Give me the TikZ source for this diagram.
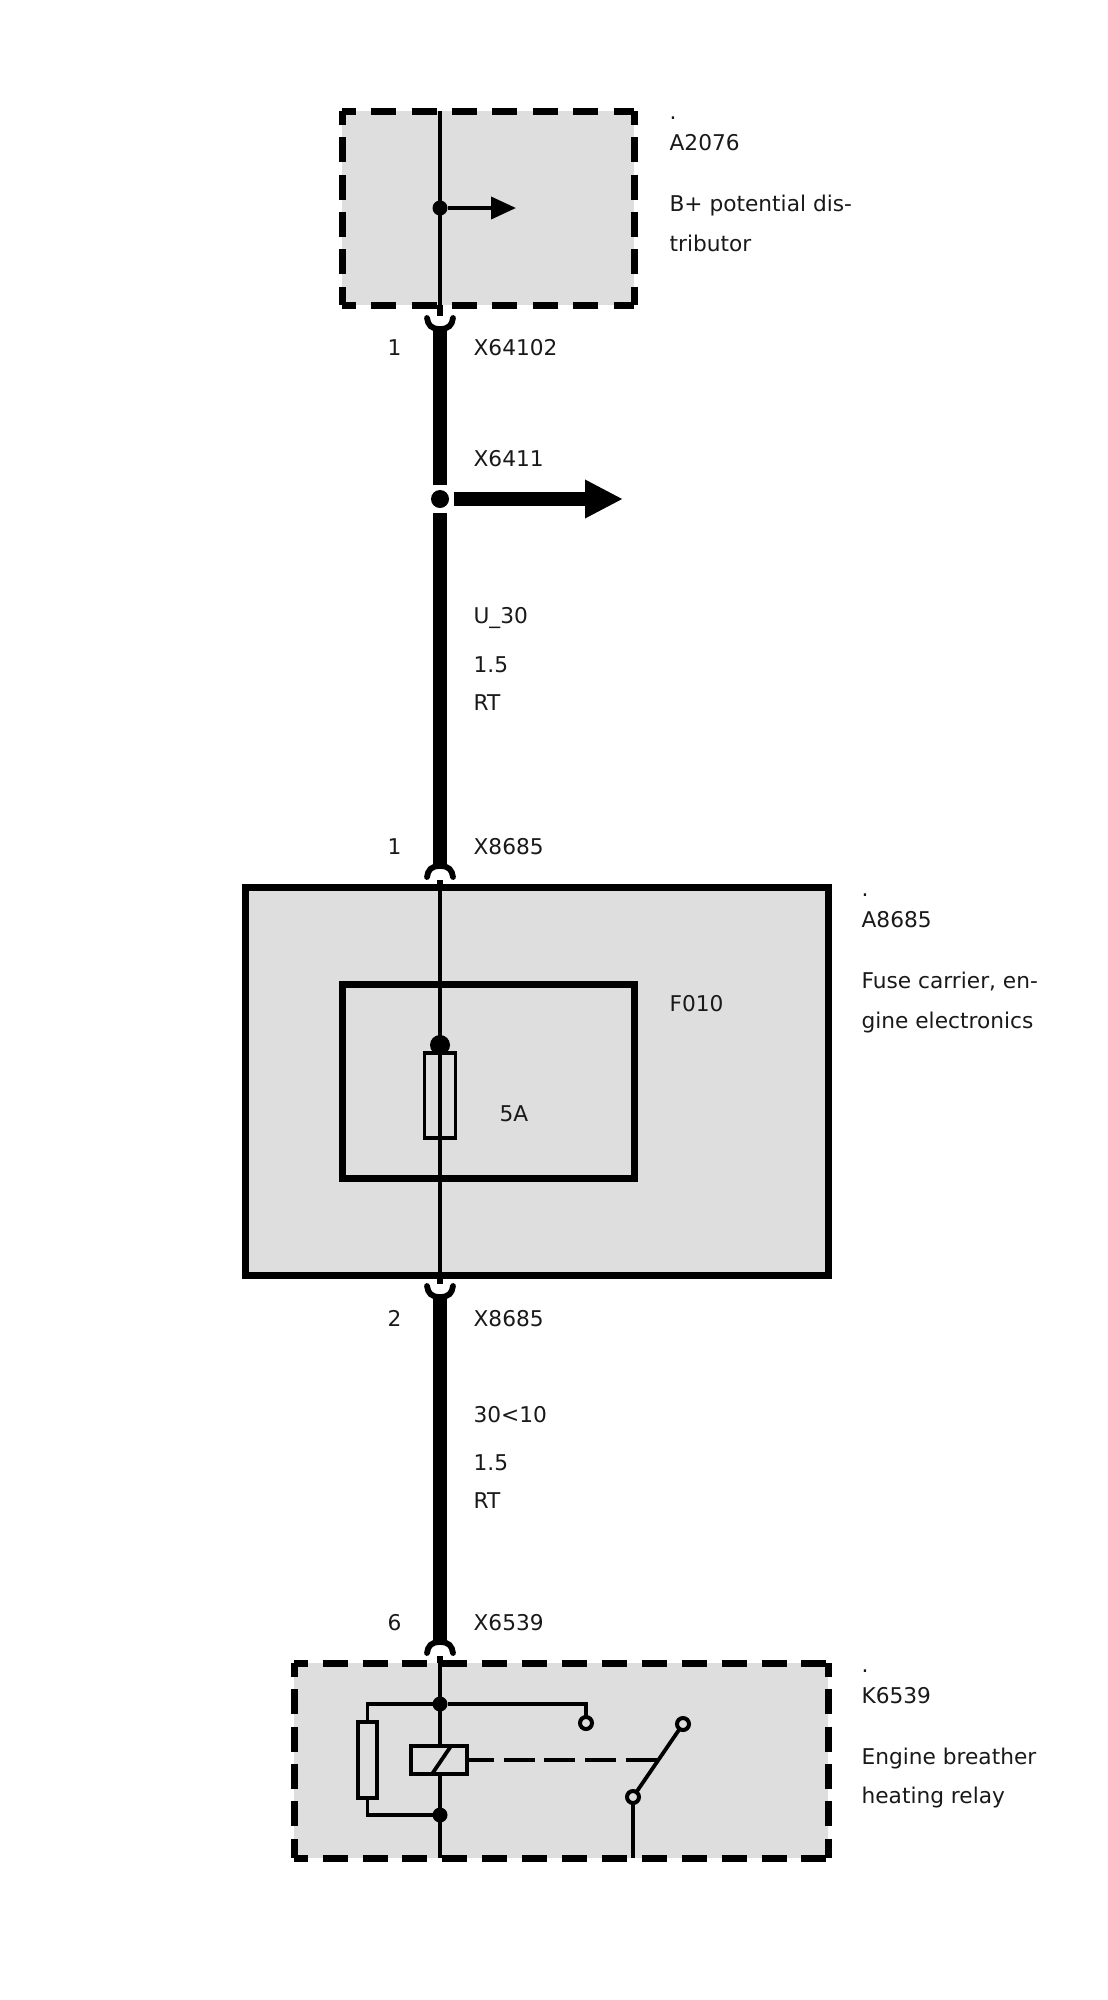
\documentclass[tikz,border=0pt]{standalone}
\usepackage{fontspec}
\setmainfont{DejaVu Sans}
\usetikzlibrary{calc,arrows.meta}
\definecolor{boxgray}{HTML}{DEDEDE}
\tikzset{
  every node/.style={inner sep=0pt,outer sep=0pt},
  lab/.style={anchor=base west,font=\fontsize{21.7}{25}\selectfont,text=black!90,xshift=0.6pt},
  region/.style={fill=boxgray,anchor=north west},
  solidbox/.style={draw=black,line width=7pt,line join=miter},
  dashside/.style={line width=7pt,line cap=square,dash pattern=on 25pt off #1pt,dash phase=11.25pt},
  wire/.style={line width=3.8pt},
  stub/.style={line width=6.5pt},
  thickwire/.style={line width=13.5pt},
  cup/.style={line width=5.8pt,line cap=round},
  dotj/.style={circle,fill=black,minimum size=15pt},
  term/.style={circle,draw=black,fill=boxgray,line width=4pt,minimum size=12pt},
  part/.style={draw=black,line width=3.8pt,anchor=north west},
}
\newcommand{\dashedbox}[3]{%
  \draw[dashside=#2] (#1.north west) -- (#1.north east);
  \draw[dashside=#2] (#1.south west) -- (#1.south east);
  \draw[dashside=#3] (#1.north west) -- (#1.south west);
  \draw[dashside=#3] (#1.north east) -- (#1.south east);}
\newcommand{\cupup}[1]{\draw[cup] ($(#1)+(-13,-11)$) .. controls +(1,7) and +(-9,0) .. (#1) .. controls +(9,0) and +(-1,7) .. ($(#1)+(13,-11)$);}
\newcommand{\cupdn}[1]{\draw[cup] ($(#1)+(-13,11)$) .. controls +(1,-7) and +(-9,0) .. (#1) .. controls +(9,0) and +(-1,-7) .. ($(#1)+(13,11)$);}
\begin{document}
\begin{tikzpicture}[x=1pt,y=-1pt]
\useasboundingbox (0,0) rectangle (1108,2000);
% regions
\node[region,minimum width=292pt,minimum height=194pt] (a2076) at (342,111) {};
\node[region,minimum width=583pt,minimum height=388pt] (a8685) at (245,887) {};
\node[region,minimum width=534pt,minimum height=195pt] (k6539) at (294,1663) {};
% coordinates
\coordinate (wtop) at (440,111);
\coordinate (j1) at (440,208);
\coordinate (j1end) at (516,208);
\coordinate (c1) at (440,329);
\coordinate (s1) at (440,316);
\coordinate (j2) at (440,499);
\coordinate (j2start) at (454,499);
\coordinate (j2end) at (623,499);
\coordinate (c2) at (440,866);
\coordinate (s2) at (440,880);
\coordinate (c3) at (440,1297);
\coordinate (s3) at (440,1284);
\coordinate (c4) at (440,1642);
\coordinate (s4) at (440,1656);
\coordinate (j3) at (440,1704);
\coordinate (j4) at (440,1815);
\coordinate (wbot) at (440,1858);
% A2076
\draw[wire] (wtop) -- (a2076.south -| wtop);
\draw[stub] (a2076.south -| wtop) -- (s1);
\dashedbox{a2076}{15.4}{12.4}
\node[dotj] (d1) at (j1) {};
\draw[wire,-{Triangle[length=25pt,width=22pt]}] (d1) -- (j1end);
\cupup{c1}
% main harness 1
\draw[thickwire] (c1) -- (j2 |- 0,485);
\draw[thickwire] (j2 |- 0,513) -- (c2);
\node[circle,fill=black,minimum size=18pt] (d2) at (j2) {};
\draw[thickwire,-{Triangle[length=38pt,width=36pt]}] (j2start) -- (j2end);
\cupdn{c2}
% A8685
\draw[solidbox] (a8685.north west) rectangle (a8685.south east);
\node[solidbox,anchor=north west,minimum width=292pt,minimum height=194pt] (f010) at (342,984) {};
\draw[wire] (s2) -- (s3);
\draw[stub] (s2) -- (a8685.north -| s2);
\draw[stub] (a8685.south -| s3) -- (s3);
\node[part,minimum width=31pt,minimum height=85pt] (fuse) at (424.5,1053) {};
\node[circle,fill=black,minimum size=20pt] (d3) at (440,1045) {};
\cupup{c3}
% main harness 2
\draw[thickwire] (c3) -- (c4);
\cupdn{c4}
% K6539
\draw[stub] (s4) -- (k6539.north -| s4);
\draw[wire] (k6539.north -| s4) -- (wbot);
\dashedbox{k6539}{14.9}{12.4}
\node[dotj] (d4) at (j3) {};
\node[dotj] (d5) at (j4) {};
\node[part,minimum width=19pt,minimum height=76pt,fill=boxgray] (res) at (358,1722) {};
\node[part,minimum width=56pt,minimum height=28pt,fill=boxgray] (coil) at (411,1746) {};
\draw[wire] (coil.north -| j3) -- (d4);
\draw[wire] (coil.south -| j3) -- (d5);
\draw[wire] ($(coil.south west)+(21,0)$) -- ($(coil.north west)+(40,0)$);
\coordinate (topr) at (586,1704);
\node[term] (t1) at (586,1723) {};
\draw[wire] (res.north) -- (res.north |- d4) -- (d4) -- (topr) -- (t1);
\draw[wire] (res.south) -- (res.south |- d5) -- (d5);
\node[term] (t2) at (683,1724) {};
\node[term] (t3) at (633,1797) {};
\draw[wire] (t3) -- (t2);
\coordinate (swb) at (633,1858);
\draw[wire] (t3) -- (swb);
\coordinate (act) at (659,1760);
\draw[wire,dash pattern=on 31pt off 9.7pt,dash phase=4pt] (coil.east) -- (act);
% labels
\node[lab] (l1) at (669,119) {.};
\node[lab] (l2) at (669,150) {A2076};
\node[lab] (l3) at (669,211) {B+ potential dis-};
\node[lab] (l4) at (669,251) {tributor};
\node[lab] (l5) at (387,355) {1};
\node[lab] (l6) at (473,355) {X64102};
\node[lab] (l7) at (473,466) {X6411};
\node[lab] (l8) at (473,623) {U\_30};
\node[lab] (l9) at (473,672) {1.5};
\node[lab] (l10) at (473,710) {RT};
\node[lab] (l11) at (387,854) {1};
\node[lab] (l12) at (473,854) {X8685};
\node[lab] (l13) at (861,896) {.};
\node[lab] (l14) at (861,927) {A8685};
\node[lab] (l15) at (861,988) {Fuse carrier, en-};
\node[lab] (l16) at (861,1028) {gine electronics};
\node[lab] (l17) at (669,1011) {F010};
\node[lab] (l18) at (499,1121) {5A};
\node[lab] (l19) at (387,1326) {2};
\node[lab] (l20) at (473,1326) {X8685};
\node[lab] (l21) at (473,1422) {30<10};
\node[lab] (l22) at (473,1470) {1.5};
\node[lab] (l23) at (473,1508) {RT};
\node[lab] (l24) at (387,1630) {6};
\node[lab] (l25) at (473,1630) {X6539};
\node[lab] (l26) at (861,1672) {.};
\node[lab] (l27) at (861,1703) {K6539};
\node[lab] (l28) at (861,1764) {Engine breather};
\node[lab] (l29) at (861,1803) {heating relay};
\end{tikzpicture}
\end{document}
